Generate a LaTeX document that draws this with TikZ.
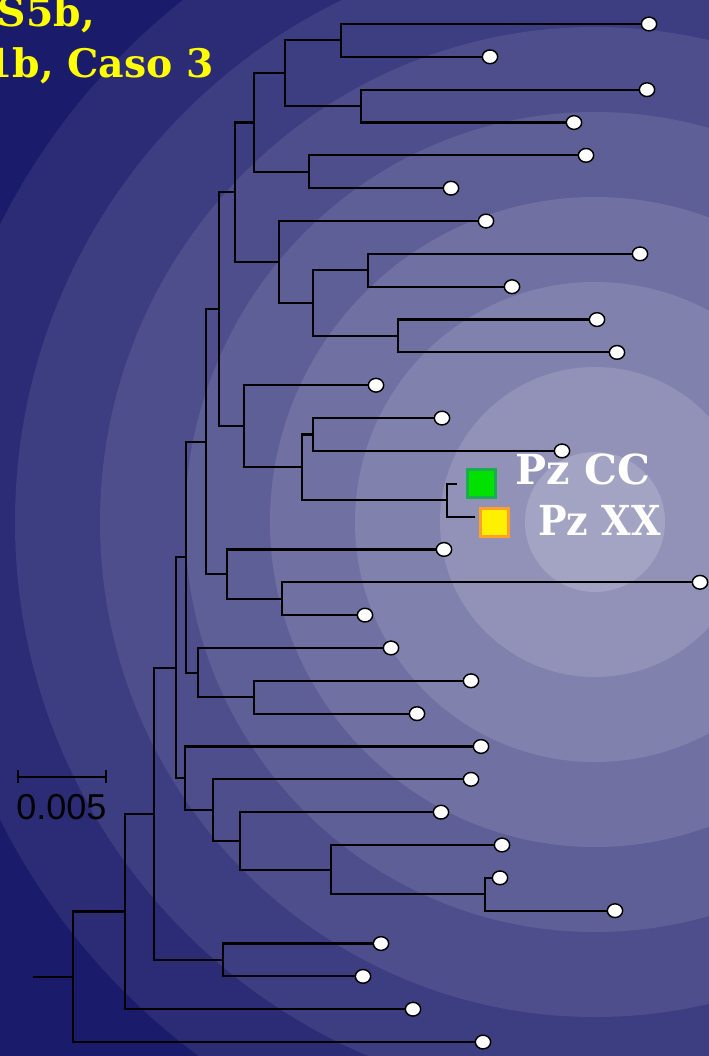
\documentclass[tikz,border=0pt]{standalone}
\usepackage{fontspec}
\setmainfont{DejaVu Serif}
\newfontfamily\slabfont{DejaVu Serif}
\newfontfamily\barfont{Liberation Sans}
\usetikzlibrary{shapes.geometric}

% concentric background bands, dark outside to light centre
\definecolor{band0}{RGB}{27,27,107}
\definecolor{band1}{RGB}{44,44,118}
\definecolor{band2}{RGB}{61,61,129}
\definecolor{band3}{RGB}{78,78,140}
\definecolor{band4}{RGB}{95,95,151}
\definecolor{band5}{RGB}{112,112,162}
\definecolor{band6}{RGB}{129,129,173}
\definecolor{band7}{RGB}{146,146,184}
\definecolor{band8}{RGB}{163,163,195}
\definecolor{titleyellow}{RGB}{255,255,0}
\definecolor{cfill}{RGB}{0,225,0}
\definecolor{cedge}{RGB}{30,170,80}
\definecolor{xfill}{RGB}{255,240,0}
\definecolor{xedge}{RGB}{255,160,40}

\begin{document}
\begin{tikzpicture}[x=0.75pt,y=-0.75pt,
  branch/.style={line width=1.6pt, draw=black},
  tip/.style={ellipse, draw=black, fill=white, line width=1.1pt,
    minimum width=11.5pt, minimum height=10.3pt, inner sep=0pt},
  marker/.style={rectangle, line width=2.25pt, minimum size=21pt, inner sep=0pt},
  pzlabel/.style={text=white, inner sep=0pt,
    font=\slabfont\bfseries\fontsize{31pt}{31pt}\selectfont},
  headline/.style={text=titleyellow, inner sep=0pt,
    font=\slabfont\bfseries\fontsize{29.5pt}{29.5pt}\selectfont}]
\useasboundingbox (0,0) rectangle (709,1056);
\clip (0,0) rectangle (709,1056);

% background
\fill[band0] (0,0) rectangle (709,1056);
\foreach \r/\c in {665/band1,580/band2,495/band3,410/band4,325/band5,240/band6,155/band7,70/band8}
  \fill[\c] (595,522) circle[radius=\r];

% title
\node[headline, anchor=base east] (title1) at (95,27) {S5b,};
\node[headline, anchor=base east] (title2) at (214,78) {1b, Caso 3};

% leaf tips
\foreach \i/\x in {1/649,2/490,3/647,4/574,5/586,6/451,7/486,8/640,9/512,10/597,
    11/617,12/376,13/442,14/562,17/444,18/700,19/365,20/391,21/471,22/417,
    23/481,24/471,25/441,26/502,27/500,28/615,29/381,30/363,31/413,32/483}
  \node[tip] (t\i) at (\x,{24+32.84*(\i-1)}) {};
\coordinate (e15) at (457,483.76);
\coordinate (e16) at (475,516.6);

% highlighted samples
\node[marker, fill=cfill, draw=cedge] (pzcc) at (481.5,483.5) {};
\node[marker, fill=xfill, draw=xedge] (pzxx) at (494.5,522.5) {};
\node[pzlabel, anchor=base west] (lcc) at (515,484) {Pz CC};
\node[pzlabel, anchor=base west] (lxx) at (538,535) {\scalebox{0.92}[1]{Pz XX}};

% internal nodes
\coordinate (nA) at (341,40.42);
\coordinate (nB) at (361,106.1);
\coordinate (nC) at (285,73.26);
\coordinate (nD) at (309,171.78);
\coordinate (nE) at (254,122.52);
\coordinate (nI) at (368,270.3);
\coordinate (nJ) at (398,335.98);
\coordinate (nH) at (313,303.14);
\coordinate (nG) at (279,262.09);
\coordinate (nF) at (235,192.3);
\coordinate (nN) at (313,434.5);
\coordinate (nO) at (447,500.18);
\coordinate (nM) at (302,467.34);
\coordinate (nL) at (244,426.29);
\coordinate (nK) at (219,309.3);
\coordinate (nR) at (282,598.7);
\coordinate (nQ) at (227,574.07);
\coordinate (nP) at (206,441.69);
\coordinate (nU) at (254,697.22);
\coordinate (nT) at (198,672.59);
\coordinate (nS) at (186,557.14);
\coordinate (nAA) at (485,894.26);
\coordinate (nZ) at (331,869.63);
\coordinate (nY) at (240,840.9);
\coordinate (nX) at (213,810.11);
\coordinate (nW) at (185,778.3);
\coordinate (nV) at (176,667.72);
\coordinate (nAC) at (223,959.94);
\coordinate (nAB) at (154,813.83);
\coordinate (nAD) at (125,911.5);
\coordinate (nRoot) at (73,976.77);
\coordinate (stem) at (33,976.77);

% branches
\foreach \p/\c in {nA/t1,nA/t2,nB/t3,nB/t4,nC/nA,nC/nB,nD/t5,nD/t6,nE/nC,nE/nD,
    nI/t8,nI/t9,nJ/t10,nJ/t11,nH/nI,nH/nJ,nG/t7,nG/nH,nF/nE,nF/nG,
    nN/t13,nN/t14,nO/e15,nO/e16,nM/nN,nM/nO,nL/t12,nL/nM,nK/nF,nK/nL,
    nR/t18,nR/t19,nQ/t17,nQ/nR,nP/nK,nP/nQ,nU/t21,nU/t22,nT/t20,nT/nU,
    nS/nP,nS/nT,nAA/t27,nAA/t28,nZ/t26,nZ/nAA,nY/t25,nY/nZ,nX/t24,nX/nY,
    nW/t23,nW/nX,nV/nS,nV/nW,nAC/t29,nAC/t30,nAB/nV,nAB/nAC,nAD/nAB,nAD/t31,
    nRoot/nAD,nRoot/t32}
  \draw[branch] (\p) |- (\c);
\draw[branch] (stem) -- (nRoot);

% scale bar
\coordinate (sbl) at (18,777);
\coordinate (sbr) at (106,777);
\draw[line width=1.5pt] (sbl) -- (sbr);
\draw[line width=1.5pt] (18,770) -- (18,783);
\draw[line width=1.5pt] (106,770) -- (106,783);
\node[anchor=base west, inner sep=0pt, font=\barfont\fontsize{27pt}{27pt}\selectfont] (sblabel) at (16,819) {0.005};
\end{tikzpicture}
\end{document}
